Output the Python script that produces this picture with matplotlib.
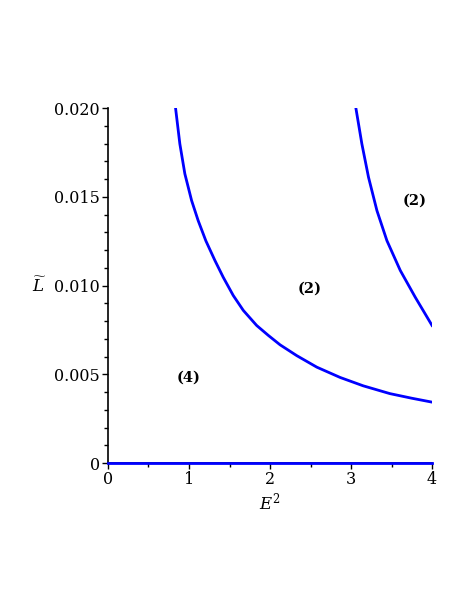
import numpy as np
import matplotlib.pyplot as plt
from matplotlib.ticker import MultipleLocator, FuncFormatter

# --- data ---
# lower boundary curve (E^2, L~)
curve1_x = [0.834, 0.887, 0.949, 1.032, 1.113, 1.208, 1.320, 1.422, 1.546, 1.670, 1.835,
            1.979, 2.124, 2.330, 2.578, 2.866, 3.15, 3.48, 3.75, 4.0]
curve1_y = [0.0200, 0.01798, 0.01629, 0.01479, 0.01366, 0.01252, 0.01141, 0.01047, 0.00944,
            0.00860, 0.00775, 0.00719, 0.00666, 0.00605, 0.00540, 0.00482, 0.00435, 0.00391,
            0.00365, 0.00343]

# upper boundary curve
curve2_x = [3.060, 3.134, 3.216, 3.320, 3.443, 3.608, 3.793, 3.900, 4.0]
curve2_y = [0.0200, 0.01798, 0.01610, 0.01422, 0.01253, 0.01085, 0.00934, 0.00852, 0.00775]

# zero line
zero_x = [0.0, 4.0]
zero_y = [0.0, 0.0]

# region labels
region_labels = ['(4)', '(2)', '(2)']
region_x = [1.0, 2.49, 3.79]
region_y = [0.0048, 0.0098, 0.0148]

plt.rcParams['font.family'] = 'DejaVu Serif'
plt.rcParams['mathtext.fontset'] = 'dejavuserif'

fig = plt.figure(figsize=(4.72, 6.11), dpi=100)
ax = fig.add_axes([0.2288, 0.2422, 0.6865, 0.581])

blue = '#0000ff'
ax.plot(curve1_x, curve1_y, color=blue, lw=2, solid_joinstyle='round')
ax.plot(curve2_x, curve2_y, color=blue, lw=2, solid_joinstyle='round')
ax.plot(zero_x, zero_y, color=blue, lw=2, zorder=3, clip_on=False)

for lab, x, y in zip(region_labels, region_x, region_y):
    ax.text(x, y, lab, ha='center', va='center', fontsize=10.5, fontweight='bold')

ax.set_xlim(0, 4)
ax.set_ylim(0, 0.020)

for s in ['top', 'right']:
    ax.spines[s].set_visible(False)
ax.spines['left'].set_linewidth(1.2)
ax.spines['bottom'].set_linewidth(1.2)

ax.xaxis.set_major_locator(MultipleLocator(1))
ax.xaxis.set_minor_locator(MultipleLocator(0.5))
ax.yaxis.set_major_locator(MultipleLocator(0.005))
ax.yaxis.set_minor_locator(MultipleLocator(0.001))
ax.yaxis.set_major_formatter(FuncFormatter(lambda v, p: '0' if abs(v) < 1e-12 else f'{v:.3f}'))

ax.tick_params(axis='both', which='major', length=4, width=1, labelsize=11.5, pad=2)
ax.tick_params(axis='both', which='minor', length=3, width=1)

ax.set_xlabel(r'$E^2$', fontsize=12, labelpad=2)
ax.set_ylabel(r'$\widetilde{L}$', fontsize=12, rotation=0, labelpad=0)
ax.yaxis.set_label_coords(-0.21, 0.47)

fig.savefig('out.png', dpi=100)
